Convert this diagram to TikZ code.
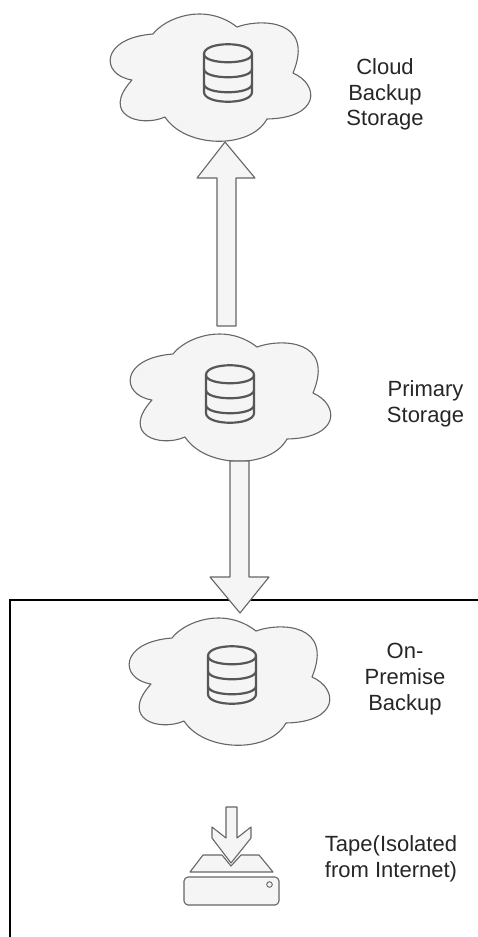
\documentclass[tikz,border=0pt]{standalone}
\usepackage{fontspec}
\setmainfont{Liberation Sans}
\definecolor{fillg}{HTML}{F5F5F5}
\definecolor{lineg}{HTML}{666666}
\tikzset{
  x=1pt,y=-1pt,
  shapeg/.style={draw=lineg,fill=fillg,line width=1.1pt,line join=round},
  iconline/.style={draw=lineg!85!black,line width=2.2pt,line join=round},
  lbl/.style={font=\fontsize{22}{22}\selectfont,text=black!85,inner sep=0pt,anchor=base},
  pics/cloudshape/.style={code={
    \path[shapeg] (153,34) .. controls (165,18) and (205,2) .. (237,27)
      .. controls (262,18) and (315,20) .. (293,73)
      .. controls (320,85) and (320,118) .. (267,119)
      .. controls (250,150) and (185,148) .. (165,117)
      .. controls (140,128) and (100,115) .. (132,80)
      .. controls (100,75) and (100,38) .. (153,34) -- cycle;
  }},
  pics/dbicon/.style={code={
    \path[iconline] (-24,-19) .. controls (-24,-32) and (24,-32) .. (24,-19)
       -- (24,19) .. controls (24,32) and (-24,32) .. (-24,19) -- cycle;
    \path[iconline] (-24,-19) .. controls (-24,-8) and (24,-8) .. (24,-19);
    \path[iconline] (-24,-4) .. controls (-24,7) and (24,7) .. (24,-4);
    \path[iconline] (-24,11) .. controls (-24,22) and (24,22) .. (24,11);
  }}
}
\begin{document}
\begin{tikzpicture}
\useasboundingbox (0,0) rectangle (478,937);
% frame
\coordinate (fa) at (10,937);
\coordinate (fb) at (10,600);
\coordinate (fc) at (478,600);
\draw[black,line width=1.2pt] (fa) -- (fb) -- (fc);
% clouds
\pic at (0,0) {cloudshape};
\pic at (20,320) {cloudshape};
\pic at (19,604) {cloudshape};
\pic at (228,73) {dbicon};
\pic at (230,394) {dbicon};
\pic at (232,675) {dbicon};
% arrows
\path[shapeg] (225,142) -- (255,178) -- (236,178) -- (236,326) -- (217,326) -- (217,178) -- (197,178) -- cycle;
\path[shapeg] (230,461) -- (249,461) -- (249,577) -- (269,577) -- (240,613) -- (210,577) -- (230,577) -- cycle;
% tape
\path[shapeg] (226,807) -- (237,807) -- (237,838) -- (251,827) -- (251,838) -- (231,863) -- (212,838) -- (212,827) -- (226,838) -- cycle;
\path[shapeg] (203,855) -- (222,855) -- (231,866) -- (241,855) -- (259,855) -- (273,872) -- (190,872) -- cycle;
\path[shapeg] (188,877) -- (275,877) .. controls (277,877) and (279,879) .. (279,881) -- (279,901) .. controls (279,903) and (277,905) .. (275,905) -- (188,905) .. controls (186,905) and (184,903) .. (184,901) -- (184,881) .. controls (184,879) and (186,877) .. (188,877) -- cycle;
\draw[lineg,line width=.9pt] (269.5,884.5) circle (2.8);
% labels
\node[lbl] (t1a) at (385,74.5) {Cloud};
\node[lbl] (t1b) at (385,100) {Backup};
\node[lbl] (t1c) at (385,125.5) {Storage};
\node[lbl] (t2a) at (425.5,396) {Primary};
\node[lbl] (t2b) at (425.5,422) {Storage};
\node[lbl] (t3a) at (405,658) {On-};
\node[lbl] (t3b) at (405,684) {Premise};
\node[lbl] (t3c) at (405,710) {Backup};
\node[lbl] (t4a) at (391,851) {Tape(Isolated};
\node[lbl] (t4b) at (391,877) {from Internet)};
\end{tikzpicture}
\end{document}
